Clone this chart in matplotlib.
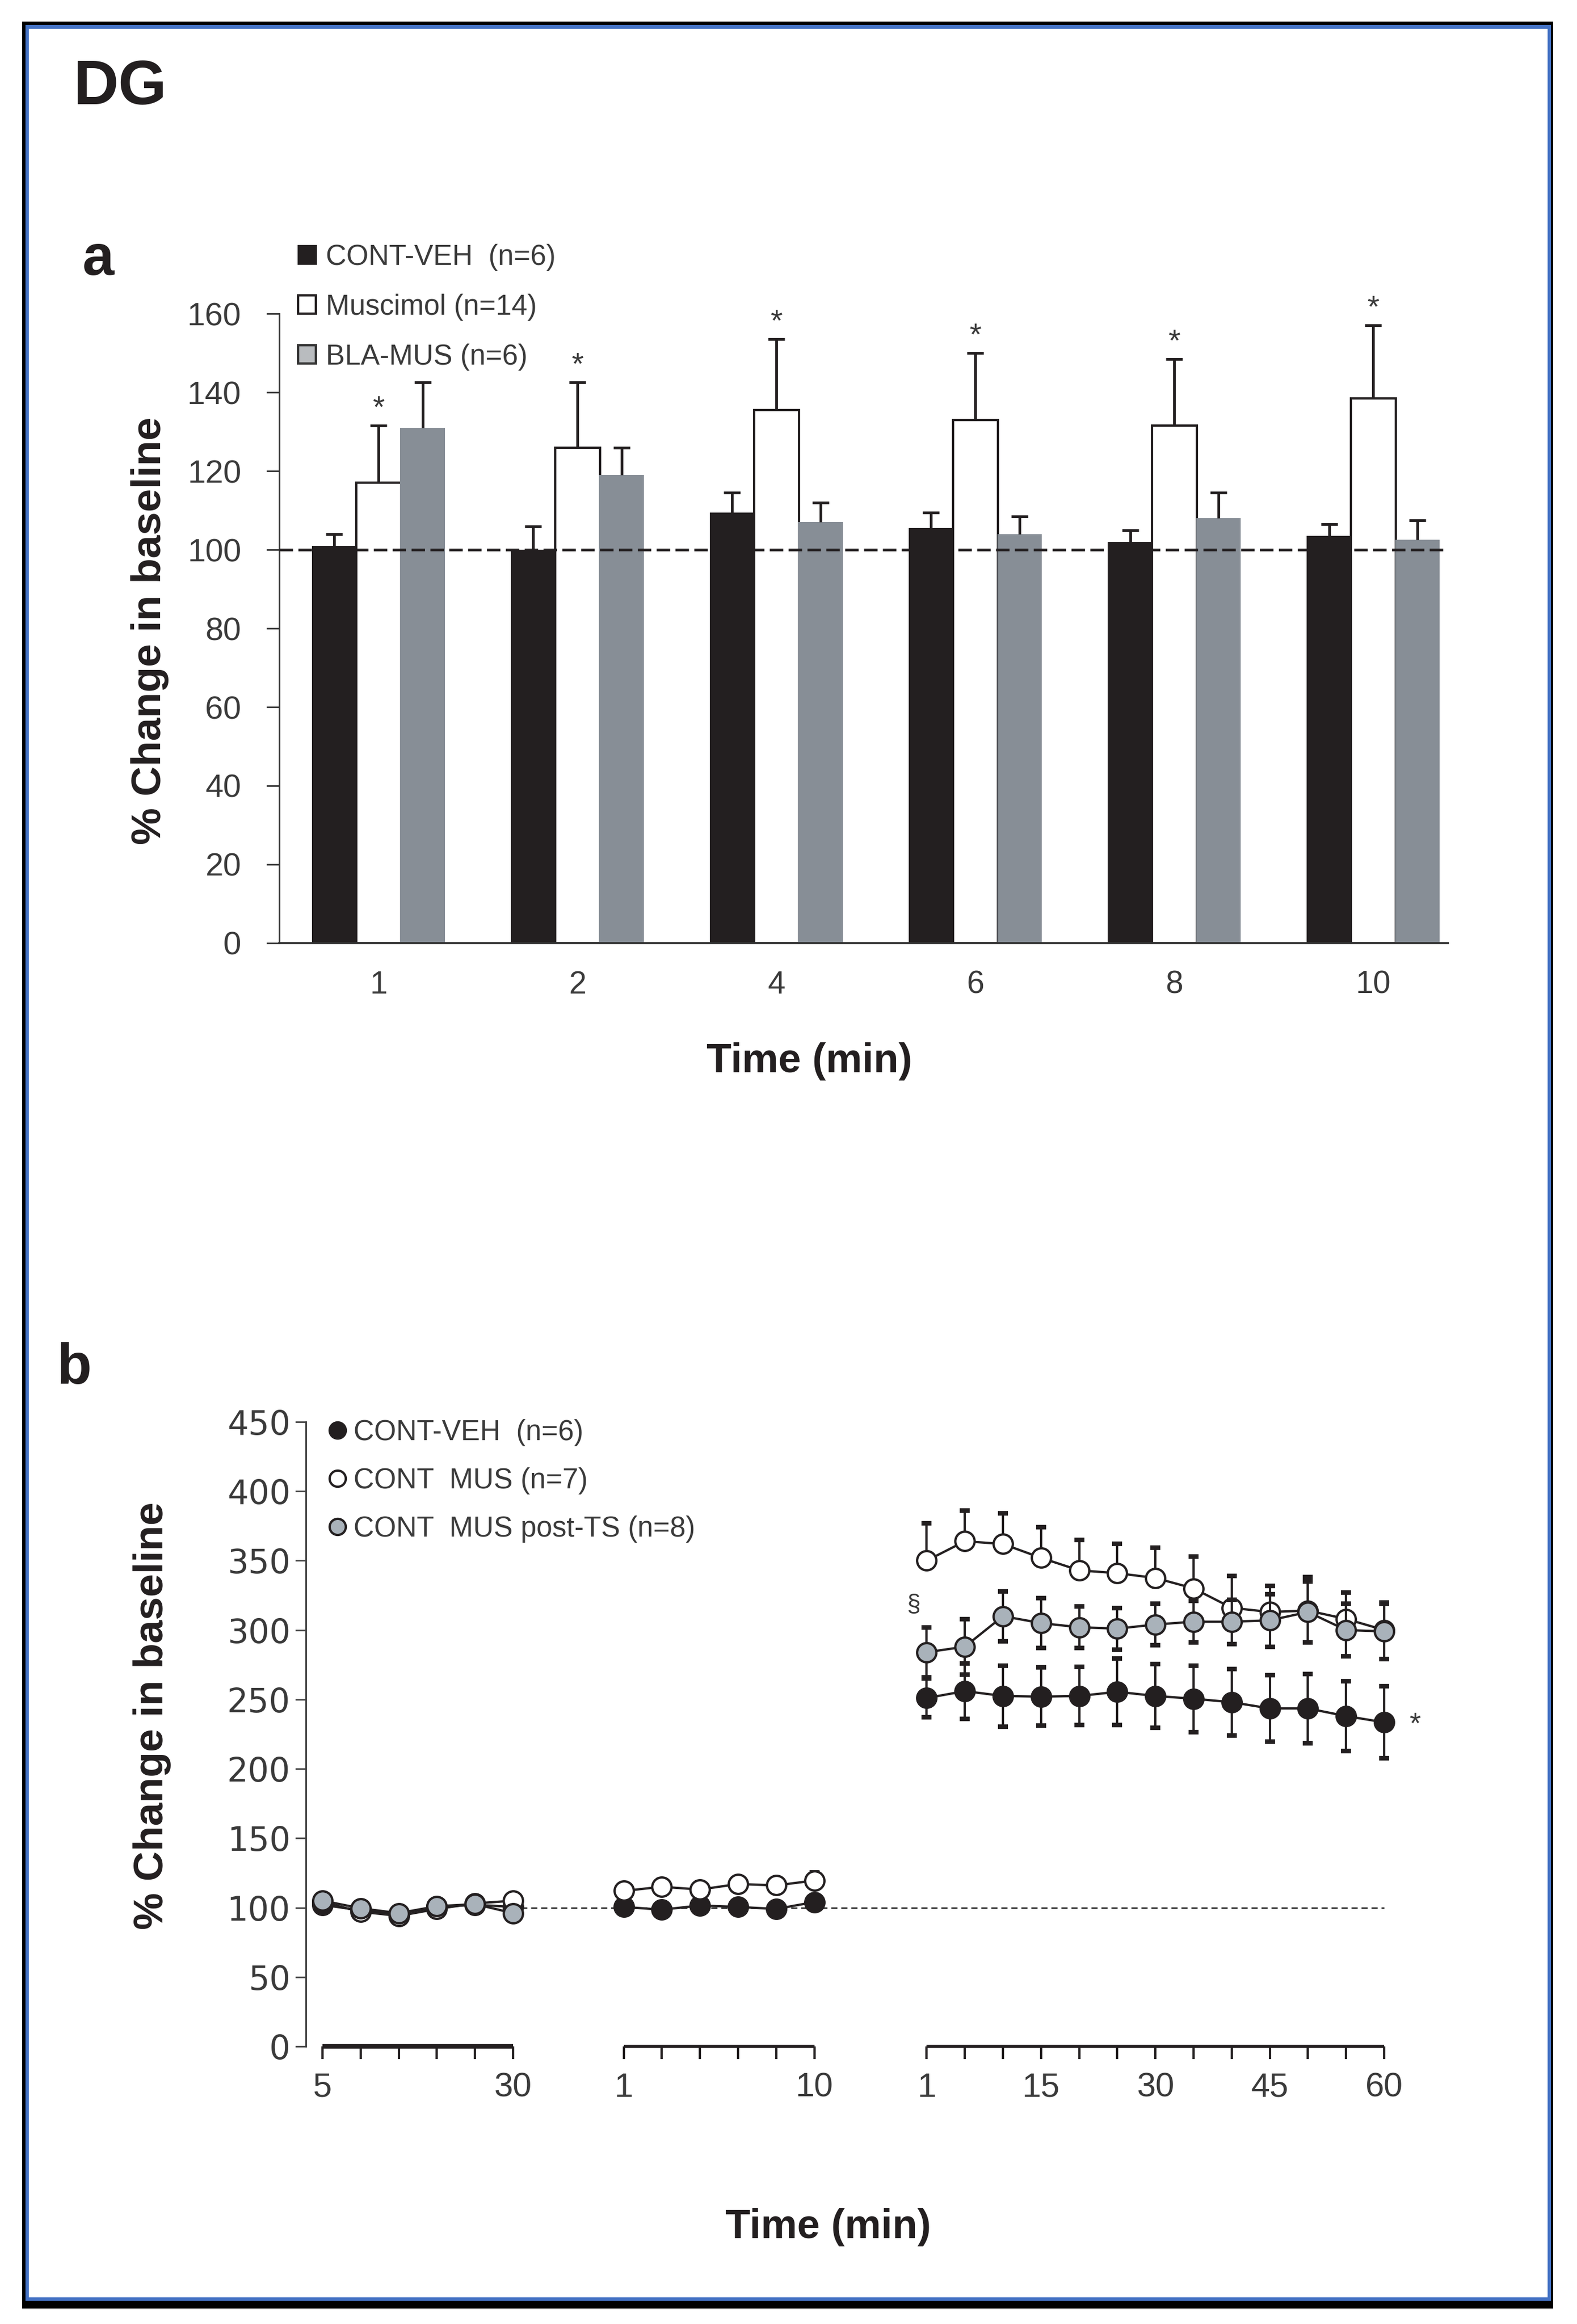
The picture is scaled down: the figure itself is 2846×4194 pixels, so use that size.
import matplotlib
matplotlib.use('Agg')
import matplotlib.pyplot as plt
from matplotlib.patches import Rectangle, Patch
from matplotlib.lines import Line2D
import numpy as np

plt.rcParams['font.family'] = ['Liberation Sans', 'DejaVu Sans']

# ---- panel a : bars (% change, mean + sem) ----
bar_times = ['1', '2', '4', '6', '8', '10']
veh_mean = [101, 100, 109.5, 105.5, 102, 103.5]
veh_sem = [3, 6, 5, 4, 3, 3]
mus_mean = [117, 126, 135.5, 133, 131.5, 138.5]
mus_sem = [14.5, 16.5, 18, 17, 17, 18.5]
bla_mean = [131, 119, 107, 104, 108, 102.5]
bla_sem = [11.5, 7, 5, 4.5, 6.5, 5]

# ---- panel b : time course, three blocks (baseline / drug / post) ----
seg1_labels = ['5', '', '', '', '', '30']
seg2_labels = ['1', '', '', '', '', '10']
seg3_labels = ['1', '', '', '15', '', '', '30', '', '', '45', '', '', '60']

veh_base = [102, 98, 95.5, 100.5, 102, 100.5]
veh_base_sem = [3, 3, 3, 3, 3, 3]
mus_base = [104, 97, 94, 99, 103, 105]
mus_base_sem = [3, 3, 3, 3, 3, 3]
ts_base = [105, 99.5, 96, 101, 102.5, 96]
ts_base_sem = [3, 3, 3, 3, 3, 3]

veh_drug = [100.5, 98.5, 101.5, 100.5, 99, 104]
veh_drug_sem = [3, 3, 4, 3, 3, 5]
mus_drug = [112, 115, 113, 117, 116, 119.5]
mus_drug_sem = [5, 5, 5, 4, 4, 6]

veh_post = [251, 256, 252.5, 252, 252.5, 255.5, 252.5, 250.5, 248, 243.5, 243.5, 238, 233.5]
veh_post_sem = [14, 20, 22, 21, 21, 24, 23, 24, 24, 24, 25, 25, 26]
mus_post = [350, 364, 362, 352, 343, 341, 337.5, 330, 316, 313, 314, 308, 300]
mus_post_sem = [27, 22, 22, 22, 22, 21, 22, 23, 23, 19, 24, 19, 20]
ts_post = [284, 288, 310, 305, 302, 301, 304, 306, 306, 307, 313, 300, 299]
ts_post_sem = [18, 20, 18, 18, 15, 15, 15, 15, 16, 19, 22, 19, 20]

BLACK = '#231f20'
GRAY_BAR = '#878e96'
GRAY_DOT = '#a9b2ba'
TXT = '#3a3a3a'


def err_bars(ax, x, y, sem, both=True, lw=3.5, cap=21, capw=3.5, z=3):
    x = np.asarray(x, float)
    y = np.asarray(y, float)
    sem = np.asarray(sem, float)
    lo = y - sem if both else y
    ax.vlines(x, lo, y + sem, colors=BLACK, lw=lw, zorder=z)
    ax.plot(x, y + sem, ls='none', marker='_', ms=cap, mew=capw, color=BLACK, zorder=z)
    if both:
        ax.plot(x, y - sem, ls='none', marker='_', ms=cap, mew=capw, color=BLACK, zorder=z)


fig = plt.figure(figsize=(28.46, 41.94), dpi=100)

# frame around the figure (black shadow + blue border)
fig.add_artist(Rectangle((0.01405, 0.00668), 0.97084, 0.98402, transform=fig.transFigure,
                         facecolor='black', edgecolor='none', zorder=-3))
fig.add_artist(Rectangle((0.01616, 0.01001), 0.96733, 0.97926, transform=fig.transFigure,
                         facecolor='#4472c4', edgecolor='none', zorder=-2))
fig.add_artist(Rectangle((0.01827, 0.01144), 0.96311, 0.97616, transform=fig.transFigure,
                         facecolor='white', edgecolor='none', zorder=-1))

fig.text(0.0467, 0.9552, 'DG', fontsize=81, fontweight='bold', color=BLACK, va='baseline')
fig.text(0.0524, 0.8817, 'a', fontsize=74, fontweight='bold', color=BLACK, va='baseline')
fig.text(0.0358, 0.4047, 'b', fontsize=74, fontweight='bold', color=BLACK, va='baseline')

# ================= panel a =================
ax = fig.add_axes([0.1771, 0.5942, 0.7411, 0.2708])
ax.set_facecolor('none')
x = np.arange(len(bar_times))
off = 0.222
w = 0.225
ax.bar(x - off, veh_mean, w, color=BLACK, zorder=2)
ax.bar(x, mus_mean, w, color='white', edgecolor=BLACK, linewidth=3, zorder=2)
ax.bar(x + off, bla_mean, w, color=GRAY_BAR, zorder=2)
err_bars(ax, x - off, veh_mean, veh_sem, both=False)
err_bars(ax, x, mus_mean, mus_sem, both=False)
err_bars(ax, x + off, bla_mean, bla_sem, both=False)
ax.axhline(100, color=BLACK, lw=3.5, dashes=(5, 2), zorder=4)

for xi, m, s in zip(x, mus_mean, mus_sem):
    ax.text(xi, m + s + 2.2, '*', fontsize=40, color=TXT, ha='center', va='baseline', zorder=5)

ax.set_xlim(-0.499, 5.376)
ax.set_ylim(0, 160)
ax.set_yticks(np.arange(0, 161, 20))
ax.set_xticks(x)
ax.set_xticklabels(bar_times)
for s in ['top', 'right']:
    ax.spines[s].set_visible(False)
ax.spines['left'].set_linewidth(2)
ax.spines['bottom'].set_linewidth(2.7)
ax.spines['left'].set_color('#333333')
ax.spines['bottom'].set_color('#333333')
ax.tick_params(axis='y', length=16.5, width=2, color='#333333', pad=33, labelsize=42, labelcolor=TXT)
ax.tick_params(axis='x', length=0, pad=35, labelsize=41, labelcolor=TXT)

handles_a = [Patch(facecolor=BLACK, edgecolor=BLACK, lw=2),
             Patch(facecolor='white', edgecolor=BLACK, lw=3),
             Patch(facecolor='#b9bcbf', edgecolor='#333333', lw=3)]
labels_a = ['CONT-VEH  (n=6)', 'Muscimol (n=14)', 'BLA-MUS (n=6)']
leg = ax.legend(handles_a, labels_a, loc='upper left', bbox_to_anchor=(0.189, 0.8952),
                bbox_transform=fig.transFigure, frameon=False, borderpad=0, borderaxespad=0,
                fontsize=37, handlelength=0.62, handleheight=0.62, handletextpad=0.35,
                labelspacing=0.80)
for t in leg.get_texts():
    t.set_color(TXT)

fig.text(0.0952, 0.7287, '% Change in baseline', rotation=90, fontsize=54, fontweight='bold',
         color=BLACK, ha='center', va='center')
fig.text(0.5133, 0.5432, 'Time (min)', fontsize=53, fontweight='bold', color=BLACK,
         ha='center', va='center')

# ================= panel b =================
bx = fig.add_axes([0.19396, 0.11946, 0.7372, 0.26872])
bx.set_facecolor('none')
s2 = 7.9
s3 = 15.85
x1 = np.arange(len(seg1_labels), dtype=float)
x2 = s2 + np.arange(len(seg2_labels))
x3 = s3 + np.arange(len(seg3_labels))

# baseline reference line
bx.hlines(100, x1[-1] + 0.2, x3[-1], colors='#333333', lw=2, linestyles=(0, (4, 2.5)), zorder=1)

ms = 25
series = [
    ([(x1, veh_base, veh_base_sem), (x2, veh_drug, veh_drug_sem), (x3, veh_post, veh_post_sem)], BLACK, True),
    ([(x1, mus_base, mus_base_sem), (x2, mus_drug, mus_drug_sem), (x3, mus_post, mus_post_sem)], 'white', False),
    ([(x1, ts_base, ts_base_sem), (x3, ts_post, ts_post_sem)], GRAY_DOT, True),
]
z = 3
for segs, fill, both in series:
    for xs, ys, es in segs:
        err_bars(bx, xs, ys, es, both=both, lw=3, cap=13, capw=6, z=z)
        bx.plot(xs, ys, color=BLACK, lw=3, marker='o', ms=ms, mfc=fill, mec=BLACK, mew=3, zorder=z + 0.5)
    z += 1

bx.text(x3[0] - 0.35, 318, '§', fontsize=32, color=TXT, ha='center', va='center')
bx.text(x3[-1] + 0.8, veh_post[-1] - 2, '*', fontsize=38, color=TXT, ha='center', va='center')

bx.set_ylim(0, 450)
bx.set_xlim(-0.436, 30.06)
bx.set_yticks(np.arange(0, 451, 50))
all_x = np.concatenate([x1, x2, x3])
bx.set_xticks(all_x)
bx.set_xticklabels(seg1_labels + seg2_labels + seg3_labels)
for lab in bx.get_yticklabels():
    lab.set_family('DejaVu Sans')
for s in ['top', 'right', 'bottom']:
    bx.spines[s].set_visible(False)
bx.spines['left'].set_linewidth(2.2)
bx.spines['left'].set_color('#444444')
bx.tick_params(axis='y', length=14, width=2, color='#444444', pad=6, labelsize=43, labelcolor=TXT)
bx.tick_params(axis='x', length=16.5, width=3, color=BLACK, pad=17, labelsize=44, labelcolor=TXT)
for xs, lw in ((x1, 6), (x2, 4), (x3, 4)):
    bx.hlines(0, xs[0], xs[-1], colors=BLACK, lw=lw, clip_on=False, zorder=5)

handles_b = [Line2D([], [], ls='none', marker='o', ms=21, mfc=BLACK, mec=BLACK, mew=3),
             Line2D([], [], ls='none', marker='o', ms=21, mfc='white', mec=BLACK, mew=3),
             Line2D([], [], ls='none', marker='o', ms=21, mfc=GRAY_DOT, mec=BLACK, mew=3)]
labels_b = ['CONT-VEH  (n=6)', 'CONT  MUS (n=7)', 'CONT  MUS post-TS (n=8)']
leg = bx.legend(handles_b, labels_b, loc='upper left', bbox_to_anchor=(0.2087, 0.3893),
                bbox_transform=fig.transFigure, frameon=False, borderpad=0, borderaxespad=0,
                fontsize=37, handlelength=0.58, handletextpad=0.27, labelspacing=0.74)
for t in leg.get_texts():
    t.set_color(TXT)

fig.text(0.0966, 0.2618, '% Change in baseline', rotation=90, fontsize=54, fontweight='bold',
         color=BLACK, ha='center', va='center')
fig.text(0.5253, 0.0415, 'Time (min)', fontsize=53, fontweight='bold', color=BLACK,
         ha='center', va='center')

fig.savefig('out.png', dpi=100)
